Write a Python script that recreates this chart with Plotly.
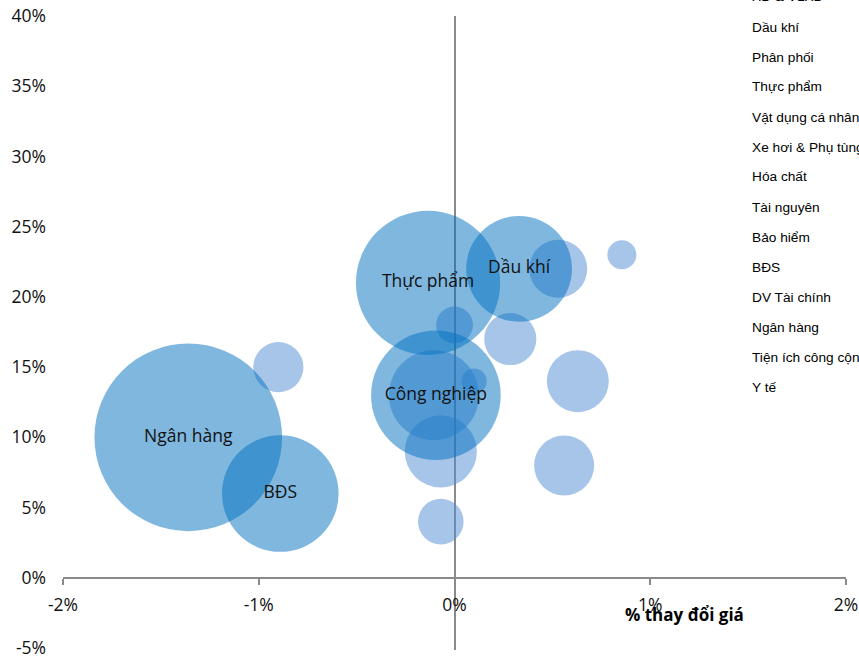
import plotly.graph_objects as go

# Labeled (major) sectors
major_names = ["Ngân hàng", "BĐS", "Thực phẩm", "Dầu khí", "Công nghiệp"]
major_x = [-1.36, -0.89, -0.135, 0.33, -0.095]      # % thay đổi giá
major_y = [10, 6, 21, 22, 13]                        # %
major_size = [88, 34, 52, 28, 42]                    # relative weight

# Other sectors (unlabeled bubbles)
minor_names = ["Bảo hiểm", "Phân phối", "XD & VLXD", "Hóa chất", "Tài nguyên",
               "Vật dụng cá nhân", "DV Tài chính", "Xe hơi & Phụ tùng",
               "Tiện ích công cộng", "Y tế", "Khác"]
minor_x = [-0.90, 0.53, 0.855, 0.0, 0.285, -0.105, 0.10, -0.07, 0.63, 0.56, -0.07]
minor_y = [15, 22, 23, 18, 17, 13, 14, 9, 14, 8, 4]
minor_size = [6.3, 8.4, 2.1, 3.4, 6.8, 20.3, 1.6, 13.0, 9.6, 9.0, 5.2]

legend_names = ["XD & VLXD", "Dầu khí", "Phân phối", "Thực phẩm", "Vật dụng cá nhân",
                "Xe hơi & Phụ tùng", "Hóa chất", "Tài nguyên", "Bảo hiểm", "BĐS",
                "DV Tài chính", "Ngân hàng", "Tiện ích công cộng", "Y tế"]

x_ticks = [-2, -1, 0, 1, 2]
x_ticktext = ["-2%", "-1%", "0%", "1%", "2%"]
y_ticks = [-5, 0, 5, 10, 15, 20, 25, 30, 35, 40]
y_ticktext = ["-5%", "0%", "5%", "10%", "15%", "20%", "25%", "30%", "35%", "40%"]

SIZEREF = 0.005
font_main = "Open Sans"

fig = go.Figure()

fig.add_trace(go.Scatter(
    x=minor_x, y=minor_y, mode="markers", text=minor_names,
    hovertemplate="%{text}<extra></extra>",
    marker=dict(size=minor_size, sizemode="area", sizeref=SIZEREF, opacity=1,
                color="rgba(80,138,212,0.5)", line=dict(width=0)),
    showlegend=False))

fig.add_trace(go.Scatter(
    x=major_x, y=major_y, mode="markers+text", text=major_names,
    textposition="middle center",
    textfont=dict(family=font_main, size=17.5, color="#111"),
    hovertemplate="%{text}<extra></extra>",
    marker=dict(size=major_size, sizemode="area", sizeref=SIZEREF, opacity=1,
                color="rgba(0,112,192,0.5)", line=dict(width=0)),
    showlegend=False))

L, T, W, H = 63, 16, 783, 634

# legend-like list at right (clipped by the page edge as in the reference)
annotations = []
for i, name in enumerate(legend_names):
    ypx = -3 + i * 30
    annotations.append(dict(x=(750 - L) / W, xref="paper", y=1 - (ypx - T) / H, yref="paper",
                            text=name, showarrow=False, xanchor="left", yanchor="middle",
                            font=dict(family="Liberation Sans", size=13.7, color="#000")))

annotations.append(dict(x=(684 - L) / W, xref="paper", y=1 - (614 - T) / H, yref="paper",
                        text="<b>% thay đổi giá</b>", showarrow=False,
                        xanchor="center", yanchor="middle",
                        font=dict(family=font_main, size=17, color="#000")))

fig.update_layout(
    width=859, height=658,
    margin=dict(l=L, r=859 - L - W, t=T, b=658 - T - H, autoexpand=False),
    plot_bgcolor="white", paper_bgcolor="white",
    font=dict(family=font_main, size=17.5, color="#111"),
    annotations=annotations,
    xaxis=dict(range=[-2, 2], tickvals=x_ticks, ticktext=x_ticktext,
               showgrid=False, zeroline=True, zerolinecolor="#8a8a8a", zerolinewidth=1.5,
               showline=True, linecolor="#8a8a8a", linewidth=1.5,
               ticks="outside", ticklen=6, tickwidth=1.5, tickcolor="#8a8a8a",
               anchor="free", position=(650 - 578) / H, ticklabelstandoff=5,
               automargin=False),
    yaxis=dict(range=[-5.14, 40], tickvals=y_ticks, ticktext=y_ticktext,
               showgrid=False, zeroline=False, showline=False, ticks="",
               ticklabelstandoff=16, automargin=False, ticklabeloverflow="allow"),
    hovermode="closest",
)

fig.write_html("out.html", config={"displayModeBar": False},
               post_script="document.body.style.margin='0px';document.body.style.overflow='hidden';")
